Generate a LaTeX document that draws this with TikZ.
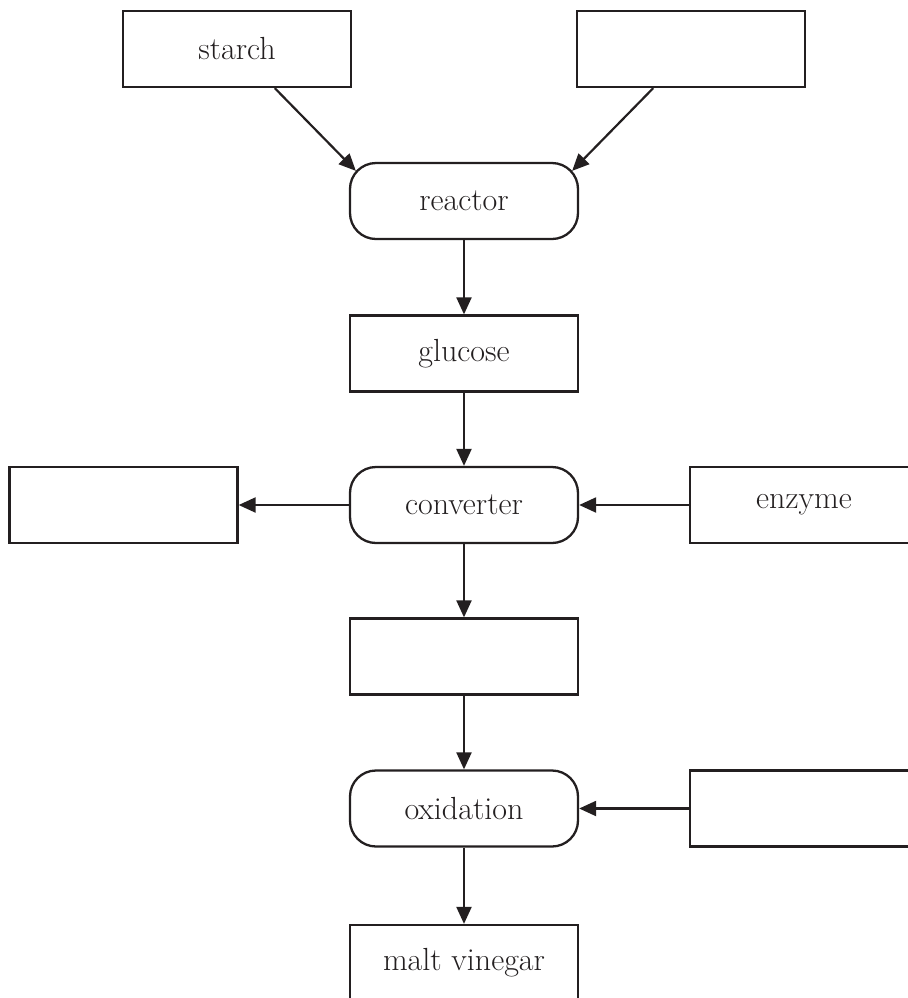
\documentclass[tikz,border=0pt]{standalone}
\usepackage{fontspec}
\usetikzlibrary{arrows.meta}
\definecolor{ink}{HTML}{231F20}
\tikzset{
    box/.style={draw=ink, line width=1.15pt, minimum width=114pt, minimum height=38pt,
        inner sep=0pt, text=ink, font=\fontsize{16}{18}\selectfont},
    proc/.style={box, rounded corners=13pt},
    flow/.style={draw=ink, line width=1.1pt, -{Triangle[length=8.5pt,width=7.5pt]}}
}
\begin{document}
\begin{tikzpicture}[x=0.5pt,y=-0.5pt]
    \useasboundingbox (0,0) rectangle (908,998);
    \clip (0,0) rectangle (908,998);
    \node [box] (starch) at (237,49) {starch};
    \node [box] (topright) at (691,49) {};
    \node [proc] (reactor) at (464,201) {reactor};
    \node [box] (glucose) at (464,353.5) {glucose};
    \node [proc] (converter) at (464,505) {converter};
    \node [box] (leftbox) at (123.5,505) {};
    \node [box] (enzyme) at (804,505) {enzyme};
    \node [box] (middle) at (464,656.5) {};
    \node [proc] (oxidation) at (464,808.5) {oxidation};
    \node [box] (rightbox) at (804,808.5) {};
    \node [box] (malt) at (464,963) {malt vinegar};
    \draw [flow] (starch.-46) -- ([xshift=3.5pt,yshift=-4.5pt]reactor.north west);
    \draw [flow] (topright.-134) -- ([xshift=-3.5pt,yshift=-4.5pt]reactor.north east);
    \draw [flow] (reactor) -- (glucose);
    \draw [flow] (glucose) -- (converter);
    \draw [flow] (converter) -- (leftbox);
    \draw [flow] (enzyme) -- (converter);
    \draw [flow] (converter) -- (middle);
    \draw [flow] (middle) -- (oxidation);
    \draw [flow] (rightbox) -- (oxidation);
    \draw [flow] (oxidation) -- (malt);
\end{tikzpicture}
\end{document}
